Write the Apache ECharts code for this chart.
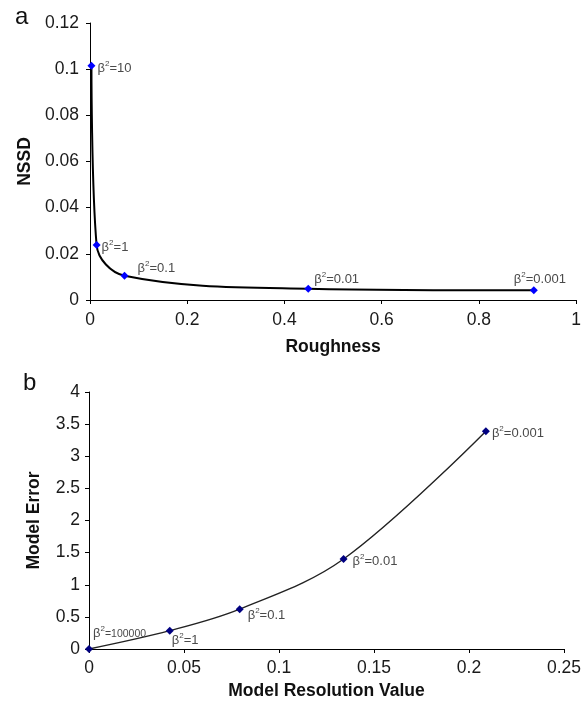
<!DOCTYPE html>
<html>
<head>
<meta charset="utf-8">
<script src="https://cdn.jsdelivr.net/npm/echarts@6/dist/echarts.min.js"></script>
<style>html,body{margin:0;padding:0;background:#fff;}#c{width:584px;height:705px;}</style>
</head>
<body>
<div id="c"></div>
<script>
// Panel a: Roughness vs NSSD
const aRoughness = [0.003, 0.0136, 0.071, 0.449, 0.913];
const aNSSD = [0.1015, 0.0238, 0.0105, 0.0049, 0.0042];
const aBeta = ['10', '1', '0.1', '0.01', '0.001'];
const aXTicks = [0, 0.2, 0.4, 0.6, 0.8, 1];
const aYTicks = [0, 0.02, 0.04, 0.06, 0.08, 0.1, 0.12];

// Panel b: Model Resolution Value vs Model Error
const bResolution = [0, 0.0425, 0.0793, 0.134, 0.2089];
const bError = [0, 0.285, 0.62, 1.40, 3.39];
const bBeta = ['100000', '1', '0.1', '0.01', '0.001'];
const bXTicks = [0, 0.05, 0.1, 0.15, 0.2, 0.25];
const bYTicks = [0, 0.5, 1, 1.5, 2, 2.5, 3, 3.5, 4];

const FONT = '"Liberation Sans", Arial, sans-serif';

// label placements (style)
const aLabelStyle = [
  {offset: [2, 2]},
  {offset: [1, 1]},
  {offset: [9, -8]},
  {offset: [2, -10]},
  {offset: [-24, -12]}
];
const bLabelStyle = [
  {offset: [0, -17], small: true},
  {offset: [-2, 9]},
  {offset: [4, 5]},
  {offset: [5, 1]},
  {offset: [2, 1]}
];

function rich(small) {
  const c = '#4a4a4a';
  return {
    t: {fontSize: 13, color: c, fontFamily: FONT, lineHeight: 15, verticalAlign: 'bottom'},
    v: {fontSize: small ? 10.5 : 13, color: c, fontFamily: FONT, lineHeight: 15, verticalAlign: 'bottom'},
    s: {fontSize: 8, color: c, fontFamily: FONT, lineHeight: 15, verticalAlign: 'top'}
  };
}

function buildData(xs, ys, betas, styles) {
  return xs.map((x, i) => ({
    value: [x, ys[i]],
    label: {
      show: true,
      position: 'right',
      offset: styles[i].offset,
      distance: 0,
      formatter: '{t|β}{s|2}{v|=' + betas[i] + '}',
      rich: rich(styles[i].small)
    }
  }));
}

function axisCommon(ticks, margin) {
  return {
    type: 'value',
    min: ticks[0],
    max: ticks[ticks.length - 1],
    interval: ticks[1] - ticks[0],
    axisLine: {show: true, onZero: false, lineStyle: {color: '#000', width: 1}},
    axisTick: {show: true, inside: false, length: 4, lineStyle: {color: '#000'}},
    splitLine: {show: false},
    axisLabel: {color: '#1a1a1a', fontSize: 17.5, fontFamily: FONT, margin: margin, formatter: v => String(v)},
    nameTextStyle: {color: '#111', fontSize: 17.5, fontWeight: 'bold', fontFamily: FONT}
  };
}

const chart = echarts.init(document.getElementById('c'), null, {renderer: 'canvas'});
chart.setOption({
  backgroundColor: '#fff',
  animation: false,
  title: [
    {text: 'a', left: 10, top: 0, textStyle: {fontSize: 24, fontWeight: 'normal', color: '#111', fontFamily: FONT}},
    {text: 'b', left: 18, top: 366, textStyle: {fontSize: 24, fontWeight: 'normal', color: '#111', fontFamily: FONT}}
  ],
  grid: [
    {left: 90, top: 23, width: 492, height: 277},
    {left: 89, top: 392, width: 476, height: 257}
  ],
  xAxis: [
    Object.assign(axisCommon(aXTicks, 11), {gridIndex: 0, name: 'Roughness', nameLocation: 'middle', nameGap: 38}),
    Object.assign(axisCommon(bXTicks, 10), {gridIndex: 1, name: 'Model Resolution Value', nameLocation: 'middle', nameGap: 33})
  ],
  yAxis: [
    Object.assign(axisCommon(aYTicks, 11), {gridIndex: 0, name: 'NSSD', nameLocation: 'middle', nameGap: 56, nameRotate: 90}),
    Object.assign(axisCommon(bYTicks, 9), {gridIndex: 1, name: 'Model Error', nameLocation: 'middle', nameGap: 46, nameRotate: 90})
  ],
  series: [
    {
      type: 'line', xAxisIndex: 0, yAxisIndex: 0,
      data: buildData(aRoughness, aNSSD, aBeta, aLabelStyle),
      smooth: 0.35,
      symbol: 'diamond', symbolSize: 8,
      itemStyle: {color: '#0000ff'},
      lineStyle: {color: '#000', width: 2},
      z: 3
    },
    {
      type: 'line', xAxisIndex: 1, yAxisIndex: 1,
      data: buildData(bResolution, bError, bBeta, bLabelStyle),
      smooth: 0.35,
      symbol: 'diamond', symbolSize: 8,
      itemStyle: {color: '#000080'},
      lineStyle: {color: '#222', width: 1.4},
      z: 3
    }
  ]
});
</script>
</body>
</html>
